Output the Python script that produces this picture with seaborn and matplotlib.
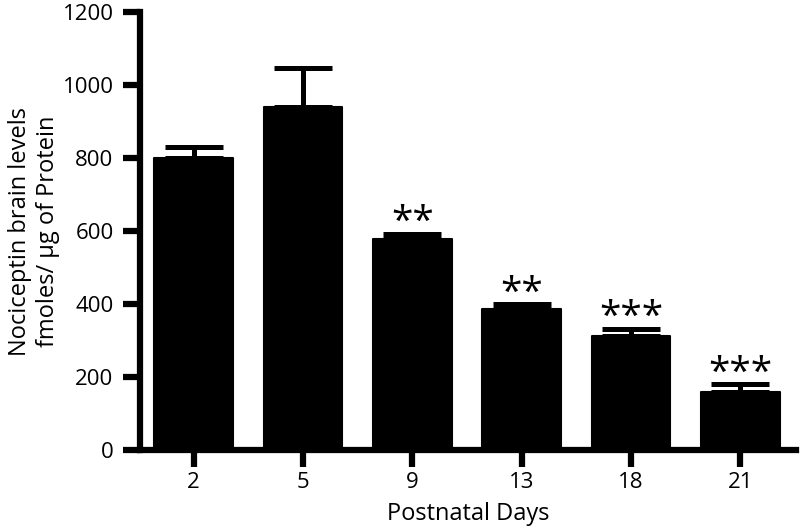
import seaborn as sns
import matplotlib.pyplot as plt
import numpy as np

days = ['2', '5', '9', '13', '18', '21']
means = [800, 941, 578, 388, 314, 159]
sem = [30, 107, 14, 12, 19, 21]
stars = ['', '', '**', '**', '***', '***']

sns.set_theme(style='ticks')
plt.rcParams['font.family'] = ['Open Sans', 'DejaVu Sans']

fig, ax = plt.subplots(figsize=(8, 5.32), dpi=100)
fig.subplots_adjust(left=0.175, right=0.995, bottom=0.154, top=0.977)

sns.barplot(x=days, y=means, color='black', saturation=1, width=0.72,
            errorbar=None, ax=ax, edgecolor='black', linewidth=1.5)
for b in ax.patches:
    b.set_joinstyle('round')

pos = np.arange(len(days))
ax.errorbar(pos, means, yerr=[np.zeros(len(sem)), sem], fmt='none',
            ecolor='black', elinewidth=3.6, capsize=21, capthick=3.6, zorder=1)

# significance marks above the caps
for i, s in enumerate(stars):
    if s:
        ax.text(i, means[i] + sem[i] + 2, s, ha='center', va='baseline',
                fontsize=28, color='black')

ax.set_ylim(0, 1200)
ax.set_yticks(range(0, 1201, 200))
ax.set_xlim(-0.49, 5.51)
sns.despine(ax=ax)
for side in ['left', 'bottom']:
    ax.spines[side].set_linewidth(4.5)
    ax.spines[side].set_color('black')
ax.tick_params(axis='both', length=12, width=4.5, color='black',
               labelsize=16, labelcolor='black')
ax.tick_params(axis='y', pad=7)
ax.tick_params(axis='x', pad=4)

ax.set_xlabel('Postnatal Days', fontsize=17, labelpad=6, color='black')
ax.set_ylabel('Nociceptin brain levels\nfmoles/ µg of Protein', fontsize=17,
              labelpad=2, color='black', linespacing=1.2)

plt.savefig('out.png', dpi=100)
